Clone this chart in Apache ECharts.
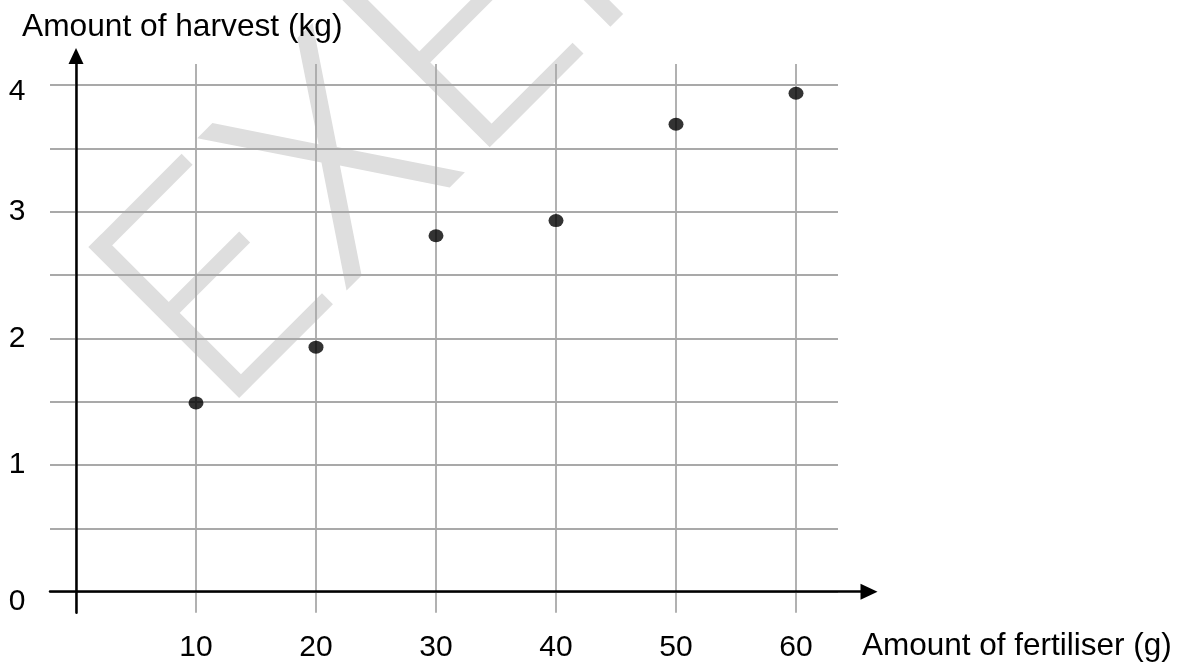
<!DOCTYPE html>
<html>
<head>
<meta charset="utf-8">
<script src="https://cdn.jsdelivr.net/npm/echarts@6/dist/echarts.min.js"></script>
<style>
  html, body { margin: 0; padding: 0; background: #fff; }
  #chart { width: 1177px; height: 666px; }
</style>
</head>
<body>
<div id="chart"></div>
<script>
// ---- data ----
const fertiliser = [10, 20, 30, 40, 50, 60];          // x values (g)
const harvest = [1.49, 1.93, 2.81, 2.93, 3.69, 3.935]; // y values (kg)
const xTickLabels = [10, 20, 30, 40, 50, 60];
const yTickLabels = [0, 1, 2, 3, 4];
const yAxisTitle = 'Amount of harvest (kg)';
const xAxisTitle = 'Amount of fertiliser (g)';
const watermark = 'EXEMPLAR';

const FONT = '"Liberation Sans", Arial, sans-serif';
const WM_FONT = 'Roboto, "Liberation Sans", sans-serif';
const GRID_COLOR = '#a9a9a9';

const chart = echarts.init(document.getElementById('chart'), null, { renderer: 'canvas' });

const points = fertiliser.map((x, i) => [x, harvest[i]]);

const option = {
  backgroundColor: '#ffffff',
  animation: false,
  grid: [
    { left: 76, right: 339, top: 85, bottom: 74.3 },   // 0: data
    { left: 50, right: 339, top: 85, bottom: 74.3 },   // 1: horizontal grid lines + y labels
    { left: 76, right: 339, top: 64, bottom: 53.3 },   // 2: vertical grid lines + x labels
    { left: 50, right: 308, top: 85, bottom: 74.3 },   // 3: x axis line with arrow
    { left: 76, right: 300, top: 56, bottom: 53.3 }    // 4: y axis line with arrow
  ],
  xAxis: [
    { gridIndex: 0, type: 'value', min: 0, max: 63.5, show: false },
    { gridIndex: 1, type: 'value', min: 0, max: 1, show: false },
    {
      gridIndex: 2, type: 'value', min: 0, max: 63.5, interval: 10,
      axisLine: { show: false }, axisTick: { show: false },
      splitLine: { show: true, showMaxLine: false, lineStyle: { color: GRID_COLOR, width: 1.8 } },
      axisLabel: {
        show: true, margin: 20, color: '#000', fontSize: 30, fontFamily: FONT,
        showMaxLabel: false,
        formatter: v => (xTickLabels.indexOf(v) >= 0 ? String(v) : '')
      }
    },
    {
      gridIndex: 3, type: 'value', min: 0, max: 1, z: 5,
      axisLine: {
        show: true, onZero: false, symbol: ['none', 'triangle'], symbolSize: [16, 17],
        lineStyle: { color: '#000', width: 2.5 }
      },
      axisTick: { show: false }, axisLabel: { show: false }, splitLine: { show: false }
    },
    { gridIndex: 4, type: 'value', min: 0, max: 1, show: false }
  ],
  yAxis: [
    { gridIndex: 0, type: 'value', min: 0, max: 4, show: false },
    {
      gridIndex: 1, type: 'value', min: 0, max: 4, interval: 0.5,
      axisLine: { show: false }, axisTick: { show: false },
      splitLine: { show: true, lineStyle: { color: GRID_COLOR, width: 1.8 } },
      axisLabel: {
        show: true, margin: 33, align: 'center', color: '#000', fontSize: 30, fontFamily: FONT,
        formatter: v => {
          if (yTickLabels.indexOf(v) < 0) return '';
          if (v === 0) return '{a|' + v + '}';
          if (v === 4) return '{b|' + v + '}';
          return String(v);
        },
        rich: {
          a: { fontSize: 30, fontFamily: FONT, color: '#000', padding: [20, 0, 0, 0] },
          b: { fontSize: 30, fontFamily: FONT, color: '#000', padding: [14, 0, 0, 0] }
        }
      }
    },
    { gridIndex: 2, type: 'value', min: 0, max: 1, show: false },
    { gridIndex: 3, type: 'value', min: 0, max: 1, show: false },
    {
      gridIndex: 4, type: 'value', min: 0, max: 1, z: 5,
      axisLine: {
        show: true, onZero: false, symbol: ['none', 'triangle'], symbolSize: [15, 16],
        lineStyle: { color: '#000', width: 2.5 }
      },
      axisTick: { show: false }, axisLabel: { show: false }, splitLine: { show: false }
    }
  ],
  graphic: [
    {
      type: 'text', x: 167, y: 364, rotation: 0.7854, z: -10, silent: true,
      style: {
        text: watermark, fontSize: 300, fontWeight: 300, fontFamily: WM_FONT, fill: '#dedede',
        textAlign: 'left', textVerticalAlign: 'middle', align: 'left', verticalAlign: 'middle'
      }
    },
    {
      type: 'text', x: 22, y: 27.5, z: 10,
      style: {
        text: yAxisTitle, fontSize: 31.7, fontFamily: FONT, fill: '#000',
        textAlign: 'left', textVerticalAlign: 'middle', align: 'left', verticalAlign: 'middle'
      }
    },
    {
      type: 'text', x: 862, y: 646, z: 10,
      style: {
        text: xAxisTitle, fontSize: 31.5, fontFamily: FONT, fill: '#000',
        textAlign: 'left', textVerticalAlign: 'middle', align: 'left', verticalAlign: 'middle'
      }
    }
  ],
  series: [
    {
      type: 'scatter', xAxisIndex: 0, yAxisIndex: 0, z: 10,
      symbol: 'circle', symbolSize: [15, 13],
      itemStyle: { color: '#000' },
      data: points
    }
  ]
};

chart.setOption(option);
</script>
</body>
</html>
